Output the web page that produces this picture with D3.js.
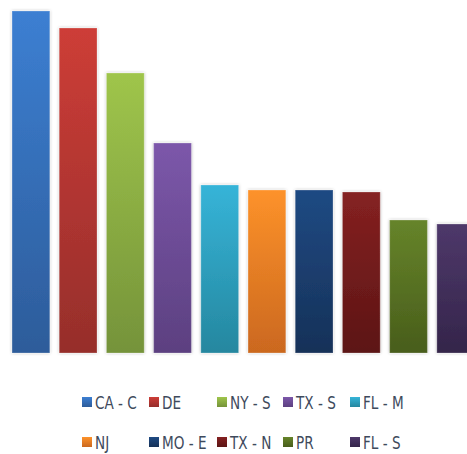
<!DOCTYPE html>
<html>
<head>
<meta charset="utf-8">
<script src="https://cdn.jsdelivr.net/npm/d3@7"></script>
<style>
  html, body { margin: 0; padding: 0; background: #fff; }
  svg { display: block; }
</style>
</head>
<body>
<svg id="chart" width="467" height="454"></svg>
<script>
// Districts, in the order they are plotted
const categories = ["CA - C", "DE", "NY - S", "TX - S", "FL - M", "NJ", "MO - E", "TX - N", "PR", "FL - S"];
// Value per district
const values = [342, 325, 280, 210, 168, 163, 163, 161, 133, 129];
// Gradient colours per bar: top and bottom
const topColors = ["#3c7fd2", "#cd3d37", "#9fc54b", "#7c57aa", "#36b4d8", "#fd922a", "#1f4a83", "#852121", "#66842a", "#4e386a"];
const bottomColors = ["#2d5c9a", "#962e2b", "#75933a", "#5c4080", "#25879f", "#cb681f", "#163158", "#5c1515", "#485d1b", "#34254a"];

const svg = d3.select("#chart");
const baseY = 353, topY = 11;

const x = d3.scaleBand()
  .domain(categories)
  .range([2.6, 2.6 + (10 - 0.2 + 0.4) * 47.2])
  .paddingInner(0.2)
  .paddingOuter(0.2);

const y = d3.scaleLinear()
  .domain([0, d3.max(values)])
  .range([baseY, topY]);

const defs = svg.append("defs");
categories.forEach((c, i) => {
  const g = defs.append("linearGradient")
    .attr("id", "grad" + i)
    .attr("x1", 0).attr("y1", 0).attr("x2", 0).attr("y2", 1);
  g.append("stop").attr("offset", "0%").attr("stop-color", topColors[i]);
  g.append("stop").attr("offset", "100%").attr("stop-color", bottomColors[i]);
});

const shadow = defs.append("filter").attr("id", "soft")
  .attr("x", "-20%").attr("y", "-5%").attr("width", "140%").attr("height", "110%");
shadow.append("feDropShadow")
  .attr("dx", 0).attr("dy", 0).attr("stdDeviation", 1.4)
  .attr("flood-color", "#000").attr("flood-opacity", 0.3);

svg.append("g")
  .selectAll("rect")
  .data(values)
  .join("rect")
  .attr("x", (d, i) => x(categories[i]))
  .attr("y", d => y(d))
  .attr("width", x.bandwidth())
  .attr("height", d => baseY - y(d))
  .attr("fill", (d, i) => `url(#grad${i})`)
  .attr("stroke", "rgba(255,255,255,0.25)")
  .attr("stroke-width", 1)
  .attr("filter", "url(#soft)");

// Legend: two rows of five
const colX = [82, 149, 217, 283, 350];
const rowY = [402, 442];
const legend = svg.append("g");
categories.forEach((c, i) => {
  const col = i % 5, row = Math.floor(i / 5);
  const item = legend.append("g")
    .attr("transform", `translate(${colX[col]},${rowY[row]})`);
  item.append("rect")
    .attr("x", 0).attr("y", -5).attr("width", 10).attr("height", 10)
    .attr("fill", `url(#grad${i})`);
  item.append("text")
    .attr("transform", "translate(13,6.5) scale(0.84,1)")
    .attr("font-family", "'Liberation Sans Narrow', 'DejaVu Sans Condensed', 'Roboto', sans-serif")
    .attr("font-size", 18)
    .attr("fill", "#3e4a5c")
    .text(c);
});
</script>
</body>
</html>
